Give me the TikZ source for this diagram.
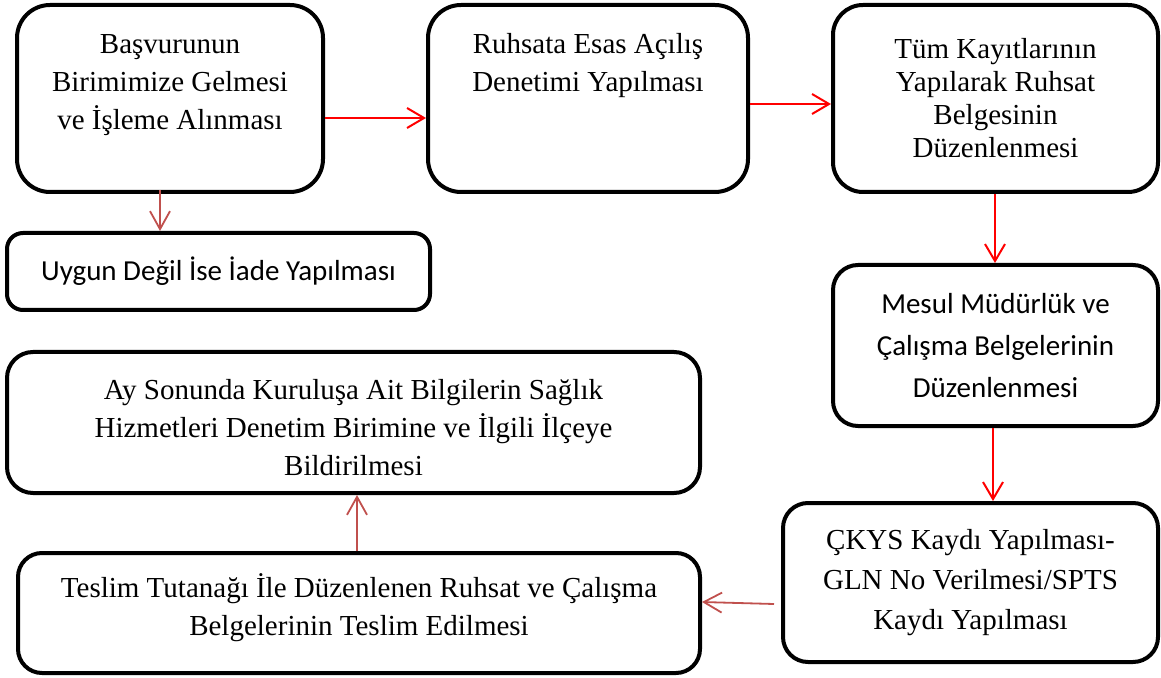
\documentclass[tikz,border=0pt]{standalone}
\usepackage{fontspec}
\setmainfont{Liberation Serif}
\setsansfont{Carlito}
\usetikzlibrary{arrows.meta}
\definecolor{accentred}{HTML}{C0504D}
\tikzset{
  box/.style={draw, line width=2pt, rounded corners=#1, inner sep=0pt, align=center},
  box/.default=12pt,
  serif/.style={align=center, font=\fontsize{14.5pt}{19pt}\selectfont},
  sans/.style={align=center, font=\sffamily\fontsize{14.5pt}{21pt}\selectfont},
  flow/.style={red, line width=1pt, -{Straight Barb[length=8.5pt,width=10pt]}},
  back/.style={accentred, line width=0.9pt, -{Straight Barb[length=9pt,width=10pt]}}
}

\begin{document}
\begin{tikzpicture}[x=0.5pt, y=-0.5pt]
\useasboundingbox (0,0) rectangle (1161,678);

% top row
\node[box=16.5pt, minimum width=153pt, minimum height=93.5pt] (basvuru) at (170,98.5) {};
\node[serif] (basvuruText) at (170,85) {Başvurunun\\Birimimize Gelmesi\\ve İşleme Alınması};
\node[box=16.5pt, minimum width=160pt, minimum height=93.5pt] (denetim) at (588,98.5) {};
\node[serif] (denetimText) at (588,66) {Ruhsata Esas Açılış\\Denetimi Yapılması};
\node[box=15pt, minimum width=162.5pt, minimum height=93.5pt,
  font=\fontsize{14.5pt}{16.5pt}\selectfont] (ruhsat) at (995.5,98.5)
  {Tüm Kayıtlarının\\Yapılarak Ruhsat\\Belgesinin\\Düzenlenmesi};

% right column
\node[box=12.5pt, minimum width=162.5pt, minimum height=80.5pt, sans] (mesul) at (995.5,345.5)
  {Mesul Müdürlük ve\\Çalışma Belgelerinin\\Düzenlenmesi};
\node[box=12.5pt, minimum width=187.5pt, minimum height=79.5pt,
  font=\fontsize{14.5pt}{20pt}\selectfont] (ckys) at (970.5,582.5)
  {ÇKYS Kaydı Yapılması-\\GLN No Verilmesi/SPTS\\Kaydı Yapılması};

% left column
\node[box=8pt, minimum width=211.5pt, minimum height=38.5pt, sans] (iade) at (218.5,271.5)
  {Uygun Değil İse İade Yapılması};
\node[box=13pt, minimum width=346.5pt, minimum height=70.5pt] (ay) at (353.5,422.5) {};
\node[serif] (ayText) at (353.5,427.5)
  {Ay Sonunda Kuruluşa Ait Bilgilerin Sağlık\\Hizmetleri Denetim Birimine ve İlgili İlçeye\\Bildirilmesi};
\node[box=12pt, minimum width=341pt, minimum height=60pt] (teslim) at (359,613) {};
\node[serif] (teslimText) at (359,607.5)
  {Teslim Tutanağı İle Düzenlenen Ruhsat ve Çalışma\\Belgelerinin Teslim Edilmesi};

% connectors
\draw[flow] ([yshift=-9.75pt]basvuru.east) -- ([yshift=-9.75pt]denetim.west);
\draw[flow] ([yshift=-2.75pt]denetim.east) -- ([yshift=-2.75pt]ruhsat.west);
\draw[flow] ([xshift=-0.25pt]ruhsat.south) -- ([xshift=-0.25pt]mesul.north);
\draw[flow] ([xshift=-1.25pt]mesul.south) -- ([xshift=-1.25pt]mesul.south |- ckys.north);
\draw[back] ([xshift=-3.5pt,yshift=-10.75pt]ckys.west) -- ([yshift=5.5pt]teslim.east);
\draw[back] ([xshift=-1pt]teslim.north) -- ([xshift=-1pt]teslim.north |- ay.south);
\draw[back] ([xshift=-5pt,yshift=2pt]basvuru.south) -- ([xshift=-5pt]basvuru.south |- iade.north);
\end{tikzpicture}
\end{document}
